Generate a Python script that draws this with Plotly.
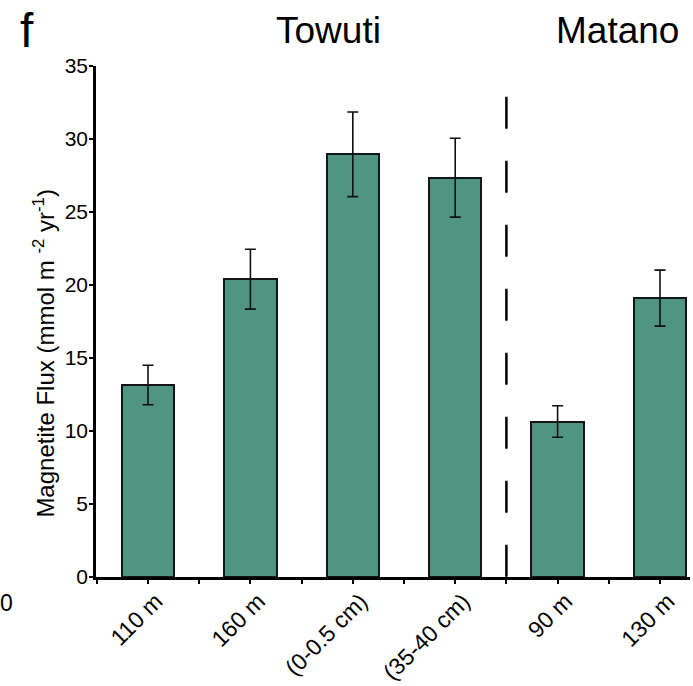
import plotly.graph_objects as go

categories = ["110 m", "160 m", "(0-0.5 cm)", "(35-40 cm)", "90 m", "130 m"]
flux = [13.15, 20.4, 28.95, 27.35, 10.65, 19.1]
flux_err = [1.35, 2.05, 2.9, 2.7, 1.08, 1.92]
lake_labels = ["Towuti", "Matano"]
lake_label_x = [1.762, 4.585]
separator_x = 3.5
y_ticks = [0, 5, 10, 15, 20, 25, 30, 35]

FONT = "Liberation Sans, Arial, Helvetica, sans-serif"
xpos = list(range(len(categories)))

fig = go.Figure()
fig.add_trace(go.Bar(
    x=xpos, y=flux, width=0.51,
    marker=dict(color="#4f9581", line=dict(color="#151515", width=2)),
    error_y=dict(type="data", array=flux_err, visible=True,
                 color="#111111", thickness=1.6, width=5.5),
    showlegend=False,
))

# dashed separator between lakes
fig.add_shape(type="line", xref="x", yref="y", x0=separator_x, x1=separator_x,
              y0=32.9, y1=0, line=dict(color="black", width=2.5, dash="32px,32px"))

for t, x in zip(lake_labels, lake_label_x):
    fig.add_annotation(text=t, x=x, xref="x", y=1.07, yref="paper",
                       showarrow=False, xanchor="center", yanchor="middle",
                       font=dict(family=FONT, size=37, color="black"))

fig.add_annotation(text="f", x=-0.116, xref="paper", y=1.07, yref="paper",
                   showarrow=False, xanchor="center", yanchor="middle",
                   font=dict(family=FONT, size=48, color="black"))
fig.add_annotation(text="0", x=-0.1515, xref="paper", y=-0.051, yref="paper",
                   showarrow=False, xanchor="center", yanchor="middle",
                   font=dict(family=FONT, size=23, color="black"))
fig.add_annotation(text="Magnetite Flux (mmol m <sup>-2</sup> yr<sup>-1</sup>)",
                   x=0, xref="paper", xshift=-52, xanchor="center",
                   y=15.3, yref="y", yanchor="middle", textangle=-90,
                   showarrow=False, font=dict(family=FONT, size=24, color="black"))

fig.update_layout(
    width=693, height=686,
    margin=dict(l=96, r=3, t=66, b=109, autoexpand=False),
    paper_bgcolor="white", plot_bgcolor="white",
    font=dict(family=FONT, size=21, color="black"),
    bargap=0,
)
fig.update_xaxes(
    range=[-0.508, 5.293], tickvals=xpos, ticktext=categories, tickangle=-45,
    automargin=False,
    showline=True, linecolor="black", linewidth=2.5, showgrid=False, zeroline=False,
    ticks="outside", ticklen=4, tickwidth=1.5, tickcolor="black",
    minor=dict(tickvals=[i + 0.5 for i in range(-1, 6)], ticks="outside", ticklen=4,
               tickwidth=1.5, tickcolor="black", showgrid=False),
    tickfont=dict(family=FONT, size=23), ticklabelshift=8, ticklabelstandoff=-5,
)
fig.update_yaxes(
    range=[0, 35], tickvals=y_ticks, automargin=False,
    showline=True, linecolor="black", linewidth=2.5,
    showgrid=False, zeroline=False, ticks="outside", ticklen=4, tickwidth=2,
    tickcolor="black", tickfont=dict(family=FONT, size=21), ticklabelstandoff=-3,
)

fig.write_html("out.html", config={"displayModeBar": False},
               post_script="document.body.style.margin='0';")
